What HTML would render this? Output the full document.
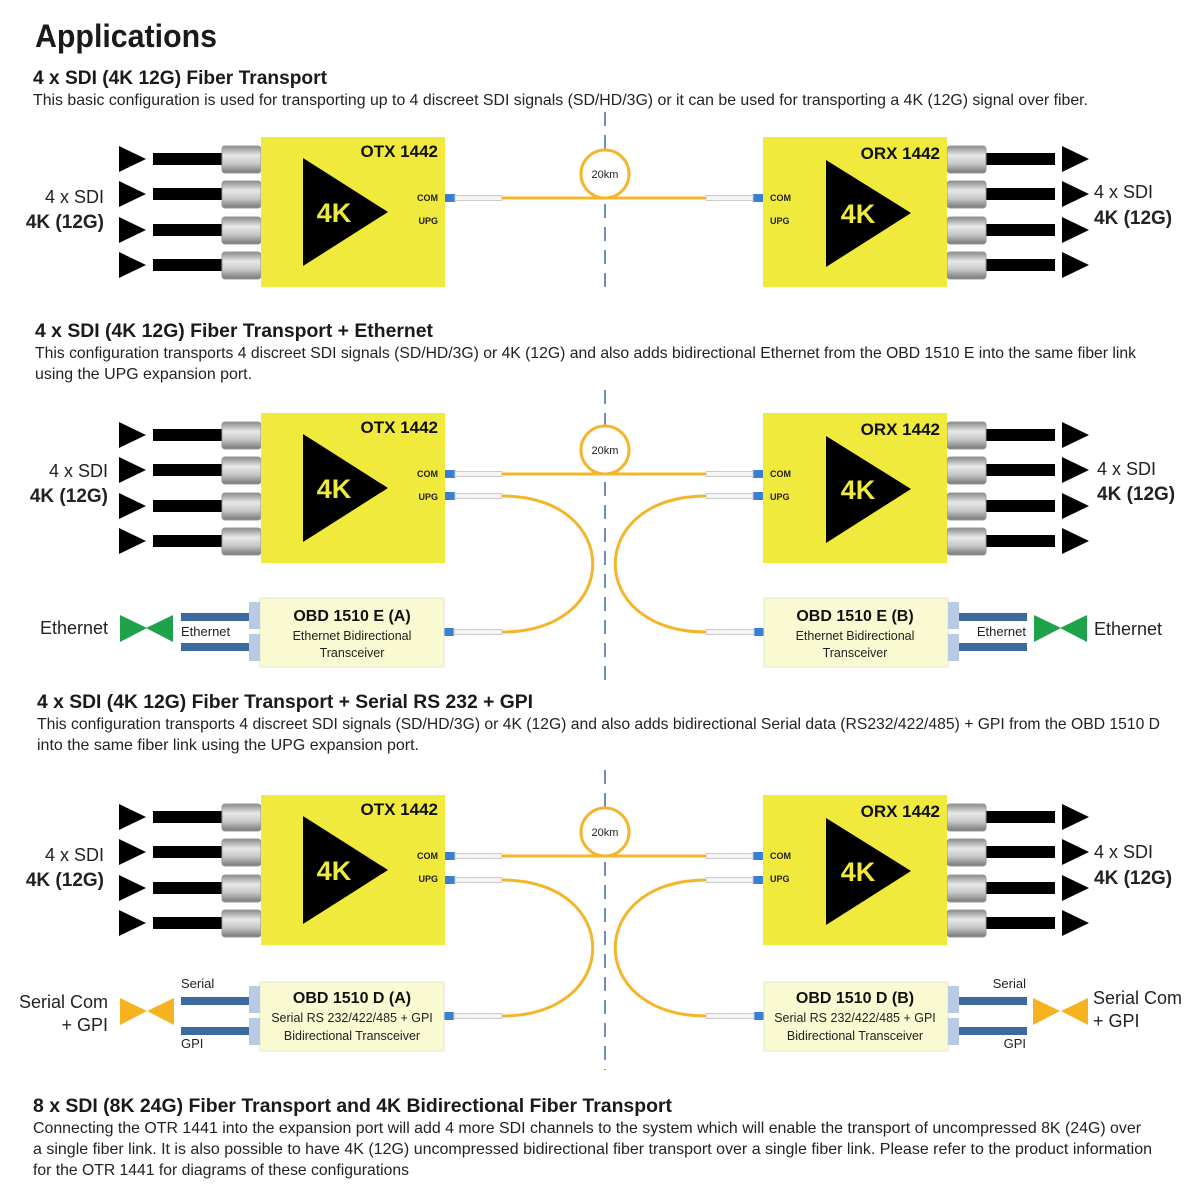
<!DOCTYPE html>
<html><head><meta charset="utf-8"><style>
html,body{margin:0;padding:0;background:#fff;width:1200px;height:1200px;overflow:hidden}
svg{display:block;font-family:"Liberation Sans",sans-serif}
.h{font-weight:bold;font-size:19px;fill:#1a1a1a}
.b{font-size:16px;fill:#222}
.lab{font-size:18px;fill:#222}
.labb{font-size:19px;font-weight:bold;fill:#222}
.dev{font-weight:bold;font-size:17px;fill:#111}
.k4{font-weight:bold;font-size:27px;fill:#f0ea3c}
.port{font-weight:bold;font-size:9px;fill:#222}
.obt{font-weight:bold;font-size:16px;fill:#111}
.obs{font-size:12.5px;fill:#222}
.sm{font-size:13px;fill:#222}
</style></head><body>
<svg width="1200" height="1200" viewBox="0 0 1200 1200" xmlns="http://www.w3.org/2000/svg">
<defs>
<linearGradient id="bnc" x1="0" y1="0" x2="0" y2="1">
<stop offset="0" stop-color="#8a8a8a"/><stop offset="0.35" stop-color="#e8e8e8"/><stop offset="0.65" stop-color="#c8c8c8"/><stop offset="1" stop-color="#777"/>
</linearGradient>
<g id="devL">
<g fill="#000">
<rect x="153" y="153" width="69" height="12"/><rect x="153" y="188" width="69" height="12"/><rect x="153" y="224" width="69" height="12"/><rect x="153" y="259" width="69" height="12"/>
</g>
<g fill="url(#bnc)" stroke="#999" stroke-width="1">
<rect x="222" y="146" width="39" height="27" rx="3"/><rect x="222" y="181" width="39" height="27" rx="3"/><rect x="222" y="217" width="39" height="27" rx="3"/><rect x="222" y="252" width="39" height="27" rx="3"/>
</g>
<rect x="261" y="137" width="184" height="150" fill="#f0ea3c"/>
<rect x="445" y="194" width="10" height="8" fill="#3a7fd0"/>
<rect x="455" y="195.5" width="47" height="5" fill="#f4f4f4" stroke="#ccc" stroke-width="1"/>
</g>
<g id="arrows">
<polygon points="119,146 146,159 119,172"/><polygon points="119,181 146,194 119,207"/><polygon points="119,217 146,230 119,243"/><polygon points="119,252 146,265 119,278"/>
</g>
<g id="upgL">
<rect x="445" y="492" width="10" height="8" fill="#3a7fd0"/>
<rect x="455" y="493.5" width="47" height="5" fill="#f4f4f4" stroke="#ccc" stroke-width="1"/>
<path d="M502,496 C623,496 623,632 502,632" fill="none" stroke="#f5b52a" stroke-width="3"/>
<rect x="444" y="628" width="10" height="8" fill="#3a7fd0"/>
<rect x="454" y="629.5" width="48" height="5" fill="#f4f4f4" stroke="#ccc" stroke-width="1"/>
<rect x="260" y="598" width="184" height="69" fill="#fafad2" stroke="#e4e4c8"/>
<rect x="249" y="602" width="11" height="27" fill="#b9cbe4"/>
<rect x="249" y="634" width="11" height="27" fill="#b9cbe4"/>
<rect x="181" y="613" width="68" height="8" fill="#3d6a9c"/>
<rect x="181" y="643" width="68" height="8" fill="#3d6a9c"/>
</g>
<g id="link">
<line x1="502" y1="198" x2="706" y2="198" stroke="#f5b52a" stroke-width="3"/>
<circle cx="605" cy="174" r="24" fill="#fff" stroke="#f5b52a" stroke-width="3"/>
</g>
<g id="sect">
<use href="#devL"/><use href="#devL" transform="translate(1208,0) scale(-1,1)"/><use href="#link"/>
<use href="#arrows" fill="#000"/>
<use href="#arrows" fill="#000" transform="translate(943,0)"/>
<polygon points="303,158 303,266 388,212" fill="#000"/>
<polygon points="826,160 826,267 911,213" fill="#000"/>
</g>
</defs>

<!-- dashed lines -->
<g stroke="#6f8fbf" stroke-width="2" stroke-dasharray="14,9">
<line x1="605" y1="112" x2="605" y2="296"/>
<line x1="605" y1="390" x2="605" y2="686"/>
<line x1="605" y1="770" x2="605" y2="1070"/>
</g>

<!-- texts -->
<text x="35" y="47" font-size="32" font-weight="bold" fill="#1a1a1a" textLength="182" lengthAdjust="spacingAndGlyphs">Applications</text>
<text class="h" x="33" y="84" textLength="294" lengthAdjust="spacingAndGlyphs">4 x SDI (4K 12G) Fiber Transport</text>
<text class="b" x="33" y="105" textLength="1055" lengthAdjust="spacingAndGlyphs">This basic configuration is used for transporting up to 4 discreet SDI signals (SD/HD/3G) or it can be used for transporting a 4K (12G) signal over fiber.</text>
<text class="h" x="35" y="337" textLength="398" lengthAdjust="spacingAndGlyphs">4 x SDI (4K 12G) Fiber Transport + Ethernet</text>
<text class="b" x="35" y="358" textLength="1101" lengthAdjust="spacingAndGlyphs">This configuration transports 4 discreet SDI signals (SD/HD/3G) or 4K (12G) and also adds bidirectional Ethernet from the OBD 1510 E into the same fiber link</text>
<text class="b" x="35" y="379" textLength="217" lengthAdjust="spacingAndGlyphs">using the UPG expansion port.</text>
<text class="h" x="37" y="708" textLength="496" lengthAdjust="spacingAndGlyphs">4 x SDI (4K 12G) Fiber Transport + Serial RS 232 + GPI</text>
<text class="b" x="37" y="729" textLength="1123" lengthAdjust="spacingAndGlyphs">This configuration transports 4 discreet SDI signals (SD/HD/3G) or 4K (12G) and also adds bidirectional Serial data (RS232/422/485) + GPI from the OBD 1510 D</text>
<text class="b" x="37" y="750" textLength="382" lengthAdjust="spacingAndGlyphs">into the same fiber link using the UPG expansion port.</text>
<text class="h" x="33" y="1112" textLength="639" lengthAdjust="spacingAndGlyphs">8 x SDI (8K 24G) Fiber Transport and 4K Bidirectional Fiber Transport</text>
<text class="b" x="33" y="1133" textLength="1108" lengthAdjust="spacingAndGlyphs">Connecting the OTR 1441 into the expansion port will add 4 more SDI channels to the system which will enable the transport of uncompressed 8K (24G) over</text>
<text class="b" x="33" y="1154" textLength="1119" lengthAdjust="spacingAndGlyphs">a single fiber link. It is also possible to have 4K (12G) uncompressed bidirectional fiber transport over a single fiber link. Please refer to the product information</text>
<text class="b" x="33" y="1175" textLength="376" lengthAdjust="spacingAndGlyphs">for the OTR 1441 for diagrams of these configurations</text>

<!-- Section blocks -->
<use href="#sect"/>
<use href="#sect" transform="translate(0,276)"/>
<use href="#sect" transform="translate(0,658)"/>
<g>
<use href="#upgL"/><use href="#upgL" transform="translate(1208,0) scale(-1,1)"/>
</g>
<g transform="translate(0,384)">
<use href="#upgL"/><use href="#upgL" transform="translate(1208,0) scale(-1,1)"/>
</g>

<!-- device texts per section -->
<g>
<text class="dev" x="438" y="157" text-anchor="end">OTX 1442</text>
<text class="dev" x="940" y="159" text-anchor="end">ORX 1442</text>
<text class="k4" x="334" y="222" text-anchor="middle">4K</text>
<text class="k4" x="858" y="223" text-anchor="middle">4K</text>
<text class="port" x="438" y="201" text-anchor="end">COM</text>
<text class="port" x="438" y="224" text-anchor="end">UPG</text>
<text class="port" x="770" y="201">COM</text>
<text class="port" x="770" y="224">UPG</text>
<text x="605" y="178" font-size="11" fill="#222" text-anchor="middle">20km</text>
<text class="lab" x="104" y="203" text-anchor="end">4 x SDI</text>
<text class="labb" x="104" y="228" text-anchor="end">4K (12G)</text>
<text class="lab" x="1094" y="198">4 x SDI</text>
<text class="labb" x="1094" y="224">4K (12G)</text>
</g>
<g transform="translate(0,276)">
<text class="dev" x="438" y="157" text-anchor="end">OTX 1442</text>
<text class="dev" x="940" y="159" text-anchor="end">ORX 1442</text>
<text class="k4" x="334" y="222" text-anchor="middle">4K</text>
<text class="k4" x="858" y="223" text-anchor="middle">4K</text>
<text class="port" x="438" y="201" text-anchor="end">COM</text>
<text class="port" x="438" y="224" text-anchor="end">UPG</text>
<text class="port" x="770" y="201">COM</text>
<text class="port" x="770" y="224">UPG</text>
<text x="605" y="178" font-size="11" fill="#222" text-anchor="middle">20km</text>
<text class="lab" x="108" y="201" text-anchor="end">4 x SDI</text>
<text class="labb" x="108" y="226" text-anchor="end">4K (12G)</text>
<text class="lab" x="1097" y="199">4 x SDI</text>
<text class="labb" x="1097" y="224">4K (12G)</text>
</g>
<g transform="translate(0,658)">
<text class="dev" x="438" y="157" text-anchor="end">OTX 1442</text>
<text class="dev" x="940" y="159" text-anchor="end">ORX 1442</text>
<text class="k4" x="334" y="222" text-anchor="middle">4K</text>
<text class="k4" x="858" y="223" text-anchor="middle">4K</text>
<text class="port" x="438" y="201" text-anchor="end">COM</text>
<text class="port" x="438" y="224" text-anchor="end">UPG</text>
<text class="port" x="770" y="201">COM</text>
<text class="port" x="770" y="224">UPG</text>
<text x="605" y="178" font-size="11" fill="#222" text-anchor="middle">20km</text>
<text class="lab" x="104" y="203" text-anchor="end">4 x SDI</text>
<text class="labb" x="104" y="228" text-anchor="end">4K (12G)</text>
<text class="lab" x="1094" y="200">4 x SDI</text>
<text class="labb" x="1094" y="226">4K (12G)</text>
</g>

<!-- Ethernet section extras -->
<polygon points="120,615 147,628 120,642" fill="#1fa34a"/><polygon points="173,615 146,628 173,642" fill="#1fa34a"/>
<polygon points="1034,615 1061,628 1034,642" fill="#1fa34a"/><polygon points="1087,615 1060,628 1087,642" fill="#1fa34a"/>
<text class="lab" x="108" y="634" text-anchor="end">Ethernet</text>
<text class="lab" x="1094" y="635">Ethernet</text>
<text class="sm" x="181" y="636">Ethernet</text>
<text class="sm" x="1026" y="636" text-anchor="end">Ethernet</text>
<text class="obt" x="352" y="621" text-anchor="middle">OBD 1510 E (A)</text>
<text class="obs" x="352" y="640" text-anchor="middle">Ethernet Bidirectional</text>
<text class="obs" x="352" y="657" text-anchor="middle">Transceiver</text>
<text class="obt" x="855" y="621" text-anchor="middle">OBD 1510 E (B)</text>
<text class="obs" x="855" y="640" text-anchor="middle">Ethernet Bidirectional</text>
<text class="obs" x="855" y="657" text-anchor="middle">Transceiver</text>

<!-- Serial section extras -->
<polygon points="120,998 147,1011 120,1025" fill="#f6b21f"/><polygon points="174,998 147,1011 174,1025" fill="#f6b21f"/>
<polygon points="1033,998 1060,1011 1033,1025" fill="#f6b21f"/><polygon points="1088,998 1061,1011 1088,1025" fill="#f6b21f"/>
<text class="lab" x="108" y="1008" text-anchor="end">Serial Com</text>
<text class="lab" x="108" y="1031" text-anchor="end">+ GPI</text>
<text class="lab" x="1093" y="1004">Serial Com</text>
<text class="lab" x="1093" y="1027">+ GPI</text>
<text class="sm" x="181" y="988">Serial</text>
<text class="sm" x="181" y="1048">GPI</text>
<text class="sm" x="1026" y="988" text-anchor="end">Serial</text>
<text class="sm" x="1026" y="1048" text-anchor="end">GPI</text>
<text class="obt" x="352" y="1003" text-anchor="middle">OBD 1510 D (A)</text>
<text class="obs" x="352" y="1022" text-anchor="middle">Serial RS 232/422/485 + GPI</text>
<text class="obs" x="352" y="1040" text-anchor="middle">Bidirectional Transceiver</text>
<text class="obt" x="855" y="1003" text-anchor="middle">OBD 1510 D (B)</text>
<text class="obs" x="855" y="1022" text-anchor="middle">Serial RS 232/422/485 + GPI</text>
<text class="obs" x="855" y="1040" text-anchor="middle">Bidirectional Transceiver</text>
</svg>
</body></html>
